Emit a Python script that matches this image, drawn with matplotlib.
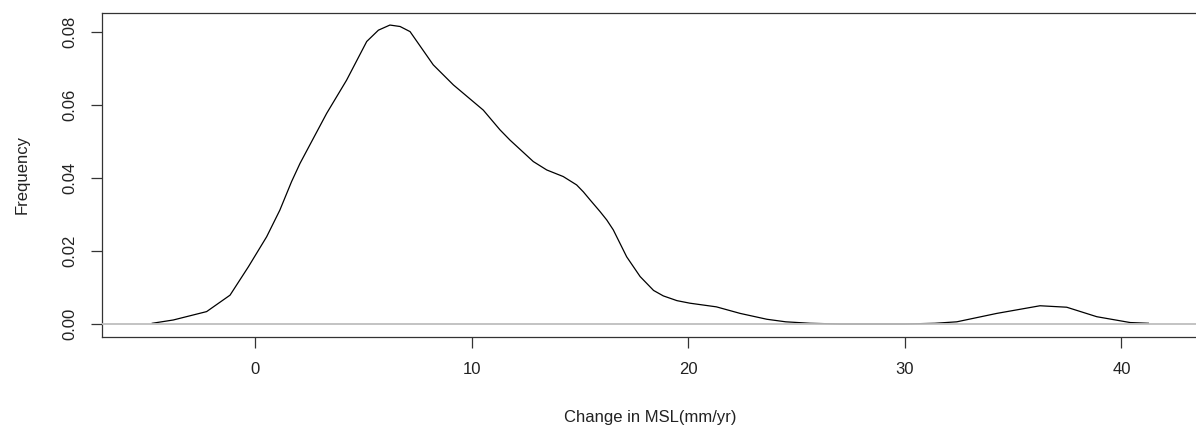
import matplotlib
matplotlib.use('Agg')
import matplotlib.pyplot as plt

# density curve (x in mm/yr, y = density)
msl_change = [-4.74, -3.77, -2.23, -1.15, -0.3, 0.54, 1.15, 1.69, 2.08, 3.31,
              4.23, 5.16, 5.7, 6.23, 6.7, 7.16, 8.23, 9.16,
              10.54, 11.31, 11.77, 12.85, 13.47, 14.23, 14.85, 15.16,
              15.47, 15.93, 16.24, 16.54, 17.16, 17.78, 18.4, 18.85, 19.48, 20.08, 21.3, 22.4,
              23.63, 24.5, 25.62, 27.0, 30.0, 31.39, 32.4, 34.24, 36.24, 37.47, 38.86,
              40.4, 41.24]
density = [0.0002, 0.0011, 0.0034, 0.0079, 0.0157, 0.0239, 0.0312, 0.0390, 0.0440, 0.0577,
           0.0668, 0.0774, 0.0805, 0.0819, 0.0815, 0.0801, 0.0710, 0.0655,
           0.0586, 0.0532, 0.0504, 0.0445, 0.0422, 0.0404, 0.0381, 0.0362,
           0.0340, 0.0308, 0.0285, 0.0258, 0.0184, 0.0130, 0.0092, 0.0077, 0.0064, 0.0057, 0.0047, 0.0029,
           0.0013, 0.0006, 0.0002, 0.0, 0.0, 0.0002, 0.0006, 0.0029, 0.0050, 0.0046, 0.0020,
           0.0004, 0.0002]

x_ticks = [0, 10, 20, 30, 40]
y_ticks = [0.00, 0.02, 0.04, 0.06, 0.08]

plt.rcParams['font.family'] = ['Liberation Sans', 'DejaVu Sans']

fig = plt.figure(figsize=(11.96, 4.32), dpi=100)
ax = fig.add_axes([102 / 1196, 1 - 337 / 432, 1.002 - 102 / 1196, (337 - 13) / 432])

ax.plot(msl_change, density, color='black', linewidth=0.9, zorder=2)
# gray zero line drawn on top, like abline(h=0) in R
ax.axhline(0, color='#bebebe', linewidth=1.3, zorder=3)

ax.set_xlim(-7.06, 43.55)
ax.set_ylim(-0.00356, 0.0852)

ax.set_xticks(x_ticks)
ax.set_xticklabels([str(t) for t in x_ticks])
ax.set_yticks(y_ticks)
ax.set_yticklabels(['%.2f' % t for t in y_ticks], rotation=90, va='center')

ax.tick_params(axis='both', direction='out', length=8, width=0.9, color='#333333',
               labelsize=12, labelcolor='#222222')
ax.tick_params(axis='x', pad=10)
ax.tick_params(axis='y', pad=10)

for side in ['left', 'bottom', 'top']:
    ax.spines[side].set_linewidth(0.9)
    ax.spines[side].set_color('#333333')
ax.spines['right'].set_visible(False)

ax.set_xlabel('Change in MSL(mm/yr)', fontsize=12, color='#222222', labelpad=24)
ax.set_ylabel('Frequency', fontsize=12, color='#222222', labelpad=23)

fig.savefig('out.png', dpi=100)
